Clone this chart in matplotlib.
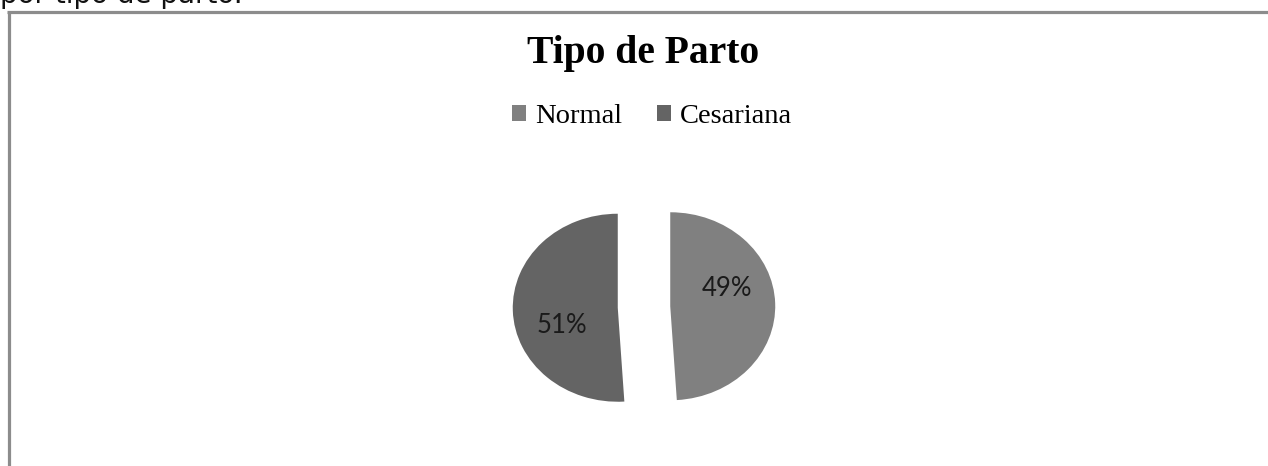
import numpy as np
import matplotlib
matplotlib.use("Agg")
import matplotlib.pyplot as plt
from matplotlib.lines import Line2D
from matplotlib.patches import Patch

# ---- data ----
categories = ["Normal", "Cesariana"]
values = [49, 51]
pct_labels = ["49%", "51%"]
title = "Tipo de Parto"
caption = "por tipo de parto."

colors = ["#808080", "#646464"]

W, H = 1268, 466
fig = plt.figure(figsize=(W / 100, H / 100), dpi=100)
fig.patch.set_facecolor("white")

def fx(px):
    return px / W

def fy(py):  # py measured from top
    return 1 - py / H

# caption text partly cut off at top
fig.text(fx(0), fy(3), caption, ha="left", va="baseline",
         fontsize=20, family="DejaVu Sans", color="#111111")

# frame (left and top borders)
fig.add_artist(Line2D([fx(8.5), fx(8.5)], [fy(11.5), fy(H + 5)],
                      transform=fig.transFigure, color="#8c8c8c", lw=2.3,
                      solid_capstyle="butt"))
fig.add_artist(Line2D([fx(7.4), fx(W + 5)], [fy(11.5), fy(11.5)],
                      transform=fig.transFigure, color="#8c8c8c", lw=2.3,
                      solid_capstyle="butt"))

# title
fig.text(fx(643), fy(63), title, ha="center", va="baseline",
         fontsize=28.5, fontweight="bold", family="Liberation Serif")

# pie axes: center (644, 307) px, rx=105, ry=94
cx, cy = 644, 307
rx, ry = 105, 94
lim = 1.5
aw, ah = 2 * lim * rx, 2 * lim * ry
ax = fig.add_axes([fx(cx - aw / 2), fy(cy + ah / 2), aw / W, ah / H])
wedges, _ = ax.pie(values, colors=colors, startangle=90, counterclock=False,
                   explode=[0.25, 0.25], radius=1.0,
                   wedgeprops=dict(edgecolor="none"))
ax.set_aspect("auto")
ax.set_xlim(-lim, lim)
ax.set_ylim(-lim, lim)
ax.axis("off")

for w, lab in zip(wedges, pct_labels):
    mid = np.deg2rad((w.theta1 + w.theta2) / 2 + 18)
    c = w.center
    d = 0.57
    ax.text(c[0] + d * np.cos(mid), c[1] + d * np.sin(mid), lab,
            ha="center", va="center", fontsize=18.5, family="Lato",
            color="#1a1a1a")

handles = [Patch(facecolor=col, edgecolor="none") for col in colors]
fig.legend(handles, categories, loc="center", bbox_to_anchor=(fx(652), fy(116.5)),
           ncol=2, frameon=False, prop=dict(family="Liberation Serif", size=20.5),
           handlelength=0.5, handleheight=0.5, handletextpad=0.3,
           columnspacing=1.25, borderpad=0, borderaxespad=0)

fig.savefig("out.png", dpi=100)
